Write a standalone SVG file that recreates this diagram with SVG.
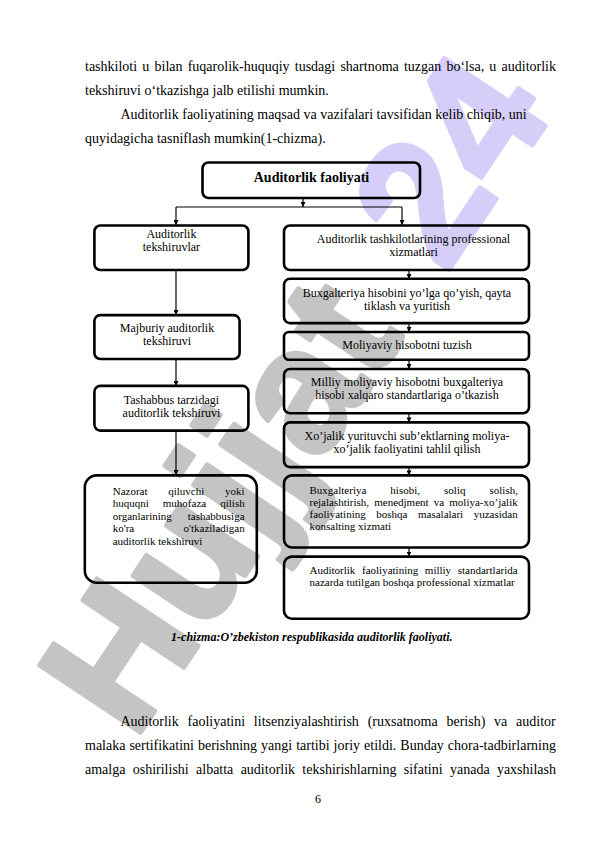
<svg xmlns="http://www.w3.org/2000/svg" width="596" height="842" viewBox="0 0 596 842">
<style>
.pg{font-family:"Liberation Serif","Times New Roman",serif;font-size:14px;fill:#000}
.bx{fill:none;stroke:#000;stroke-width:2.6}
.t12{font-family:"Liberation Serif","Times New Roman",serif;font-size:12px;fill:#000}
.t11{font-family:"Liberation Serif","Times New Roman",serif;font-size:11px;fill:#000}
.c{text-anchor:middle}
.cn{fill:none;stroke:#000;stroke-width:1.2}
.wm{font-family:"Liberation Sans",Arial,sans-serif;font-weight:bold;font-size:176px;stroke-width:5;stroke-linejoin:round}
</style>
<defs>
<marker id="ah" viewBox="0 0 10 10" refX="10" refY="5" markerWidth="5" markerHeight="5" markerUnits="userSpaceOnUse" orient="auto"><path d="M0,0 L10,5 L0,10 z" fill="#000"/></marker>
</defs>
<rect width="596" height="842" fill="#fff"/>
<g id="watermark">
<text class="wm" transform="translate(134,742) rotate(-56.3)"><tspan x="0" fill="#c4c4c4" stroke="#c4c4c4">Hujjat</tspan><tspan x="562" fill="#d6cdf9" stroke="#d6cdf9">24</tspan></text>
</g>
<g id="page-text">
<text class="pg" x="85" y="70.5" word-spacing="1.7">tashkiloti u bilan fuqarolik-huquqiy tusdagi shartnoma tuzgan bo‘lsa, u auditorlik</text>
<text class="pg" x="85" y="94.5">tekshiruvi o‘tkazishga jalb etilishi mumkin.</text>
<text class="pg" x="120.4" y="118.7">Auditorlik faoliyatining maqsad va vazifalari tavsifidan kelib chiqib, uni</text>
<text class="pg" x="85" y="142.5">quyidagicha tasniflash mumkin(1-chizma).</text>
<text class="pg" x="120.4" y="726" word-spacing="5.3">Auditorlik faoliyatini litsenziyalashtirish (ruxsatnoma berish) va auditor</text>
<text class="pg" x="85" y="750" word-spacing="0.5">malaka sertifikatini berishning yangi tartibi joriy etildi. Bunday chora-tadbirlarning</text>
<text class="pg" x="85" y="774" word-spacing="3.8">amalga oshirilishi albatta auditorlik tekshirishlarning sifatini yanada yaxshilash</text>
<text class="t12 c" x="318" y="803">6</text>
<text class="t12 c" x="311.8" y="641" font-weight="bold" font-style="italic">1-chizma:O’zbekiston respublikasida auditorlik faoliyati.</text>
</g>
<g id="connectors">
<path class="cn" d="M303,198 V207" marker-end="url(#ah)"/>
<path class="cn" d="M176,207 H402"/>
<path class="cn" d="M176,207 V225" marker-end="url(#ah)"/>
<path class="cn" d="M402,207 V225" marker-end="url(#ah)"/>
<path class="cn" d="M176,270 V315" marker-end="url(#ah)"/>
<path class="cn" d="M176,359 V386" marker-end="url(#ah)"/>
<path class="cn" d="M176,430.6 V475" marker-end="url(#ah)"/>
<path class="cn" d="M409,270 V279" marker-end="url(#ah)"/>
<path class="cn" d="M409,323 V332" marker-end="url(#ah)"/>
<path class="cn" d="M409,360 V369" marker-end="url(#ah)"/>
<path class="cn" d="M409,413.3 V422.4" marker-end="url(#ah)"/>
<path class="cn" d="M409,467 V475.4" marker-end="url(#ah)"/>
<path class="cn" d="M409,547.5 V556.6" marker-end="url(#ah)"/>
</g>
<g id="n-top">
<rect class="bx" x="202.5" y="162.5" width="217.5" height="35.5" rx="6"/>
<text class="c" x="311.5" y="182" font-family="Liberation Serif, Times New Roman, serif" font-size="14" font-weight="bold">Auditorlik faoliyati</text>
</g>
<g id="n-l1">
<rect class="bx" x="94.4" y="225.5" width="154" height="44.5" rx="6"/>
<text class="t12 c" x="171.4" y="238">Auditorlik</text>
<text class="t12 c" x="171.4" y="251.2">tekshiruvlar</text>
</g>
<g id="n-l2">
<rect class="bx" x="94.4" y="315.1" width="145.2" height="43.9" rx="6"/>
<text class="t12 c" x="167" y="332.3">Majburiy auditorlik</text>
<text class="t12 c" x="167" y="345.1">tekshiruvi</text>
</g>
<g id="n-l3">
<rect class="bx" x="94.4" y="385.9" width="154" height="44.7" rx="6"/>
<text class="t12 c" x="171.4" y="404">Tashabbus tarzidagi</text>
<text class="t12 c" x="171.4" y="416.8">auditorlik tekshiruvi</text>
</g>
<g id="n-l4">
<rect class="bx" x="84.8" y="475.4" width="172" height="107.3" rx="12"/>
<text class="t11" x="112.7" y="494.8" word-spacing="18">Nazorat qiluvchi yoki</text>
<text class="t11" x="112.7" y="507.3" word-spacing="11.3">huquqni muhofaza qilish</text>
<text class="t11" x="112.7" y="519.7" word-spacing="13.2">organlarining tashabbusiga</text>
<text class="t11" x="112.7" y="532.2" word-spacing="46.5">ko'ra o'tkaziladigan</text>
<text class="t11" x="112.7" y="544.6">auditorlik tekshiruvi</text>
</g>
<g id="n-r1">
<rect class="bx" x="284" y="225.5" width="245" height="44.5" rx="6"/>
<text class="t12 c" x="413.5" y="242.8">Auditorlik tashkilotlarining professional</text>
<text class="t12 c" x="413.5" y="255.6">xizmatlari</text>
</g>
<g id="n-r2">
<rect class="bx" x="284" y="278.8" width="245" height="44.3" rx="6"/>
<text class="t12 c" x="407" y="296.7">Buxgalteriya hisobini yo’lga qo’yish, qayta</text>
<text class="t12 c" x="407" y="309.5">tiklash va yuritish</text>
</g>
<g id="n-r3">
<rect class="bx" x="284" y="332" width="245" height="27.8" rx="5"/>
<text class="t12 c" x="407" y="349.2">Moliyaviy hisobotni tuzish</text>
</g>
<g id="n-r4">
<rect class="bx" x="284" y="369" width="245" height="44.3" rx="6"/>
<text class="t12 c" x="407" y="385.7">Milliy moliyaviy hisobotni buxgalteriya</text>
<text class="t12 c" x="407" y="398.5">hisobi xalqaro standartlariga o’tkazish</text>
</g>
<g id="n-r5">
<rect class="bx" x="284" y="422.4" width="245" height="44.7" rx="6"/>
<text class="t12 c" x="407" y="439.6">Xo’jalik yurituvchi sub’ektlarning moliya-</text>
<text class="t12 c" x="407" y="452.9">xo’jalik faoliyatini tahlil qilish</text>
</g>
<g id="n-r6">
<rect class="bx" x="284" y="475.4" width="245" height="72.1" rx="8"/>
<text class="t11" x="309.5" y="493.5" word-spacing="21.3">Buxgalteriya hisobi, soliq solish,</text>
<text class="t11" x="309.5" y="505.8" word-spacing="2.4">rejalashtirish, menedjment va moliya-xo’jalik</text>
<text class="t11" x="309.5" y="518.1" word-spacing="7.8">faoliyatining boshqa masalalari yuzasidan</text>
<text class="t11" x="309.5" y="530.4">konsalting xizmati</text>
</g>
<g id="n-r7">
<rect class="bx" x="284" y="556.6" width="245" height="62.1" rx="8"/>
<text class="t11" x="309.5" y="573.8" word-spacing="3.9">Auditorlik faoliyatining milliy standartlarida</text>
<text class="t11" x="309.5" y="585.7">nazarda tutilgan boshqa professional xizmatlar</text>
</g>
</svg>
